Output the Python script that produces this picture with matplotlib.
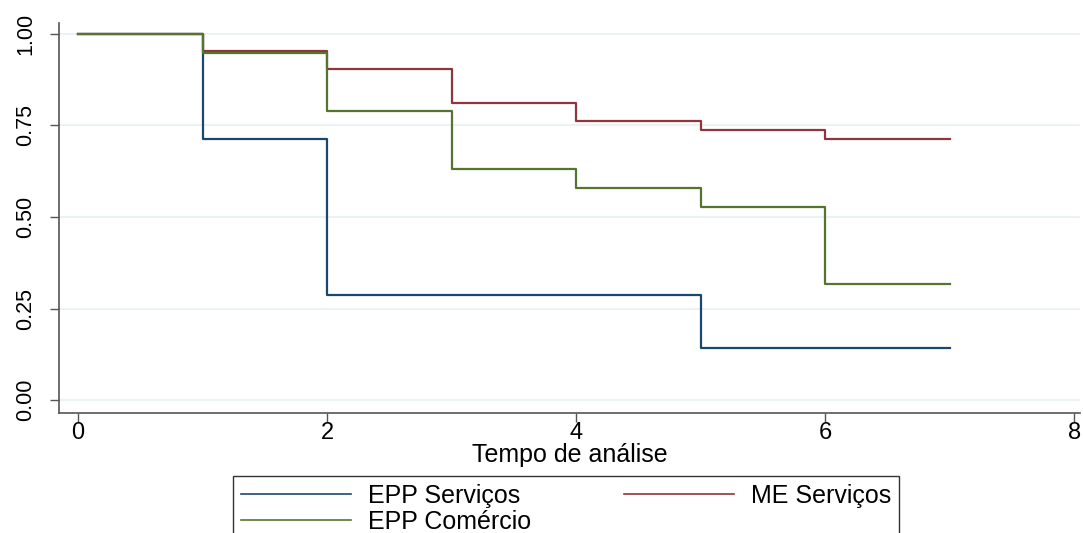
import matplotlib
matplotlib.use("Agg")
import matplotlib.pyplot as plt

plt.rcParams['font.family'] = ['Liberation Sans', 'DejaVu Sans']

# Kaplan-Meier survival estimates
t_epp_serv = [0, 1, 2, 5, 7]
s_epp_serv = [1.0, 0.714, 0.286, 0.143, 0.143]

t_me_serv = [0, 1, 2, 3, 4, 5, 6, 7]
s_me_serv = [1.0, 0.952, 0.905, 0.810, 0.762, 0.738, 0.714, 0.714]

t_epp_com = [0, 1, 2, 3, 4, 5, 6, 7]
s_epp_com = [1.0, 0.947, 0.789, 0.632, 0.579, 0.526, 0.316, 0.316]

labels = ['EPP Serviços', 'ME Serviços', 'EPP Comércio']
colors = ['#1a476f', '#90353b', '#55752f']

xticks = [0, 2, 4, 6, 8]
yticks = [0.0, 0.25, 0.5, 0.75, 1.0]
ytick_labels = ['0.00', '0.25', '0.50', '0.75', '1.00']

fig = plt.figure(figsize=(10.83, 5.33), dpi=100)
ax = fig.add_axes([0.0545, 0.225, 0.943, 0.732])

h1, = ax.step(t_epp_serv, s_epp_serv, where='post', color=colors[0], lw=1.6)
h2, = ax.step(t_me_serv, s_me_serv, where='post', color=colors[1], lw=1.6)
h3, = ax.step(t_epp_com, s_epp_com, where='post', color=colors[2], lw=1.6)

ax.set_xlim(-0.153, 8.05)
ax.set_ylim(-0.0355, 1.03)

ax.set_yticks(yticks)
ax.set_yticklabels(ytick_labels, rotation=90, va='center', fontsize=15.5)
ax.set_xticks(xticks)
ax.set_xticklabels([str(x) for x in xticks], fontsize=17)

ax.grid(axis='y', color='#eaf2f3', lw=1.5)
ax.set_axisbelow(True)

for side in ['top', 'right']:
    ax.spines[side].set_visible(False)
for side in ['left', 'bottom']:
    ax.spines[side].set_color('#555555')
    ax.spines[side].set_linewidth(1.2)
ax.tick_params(axis='both', direction='out', length=6.5, width=1.0, color='#555555')
ax.tick_params(axis='x', pad=0)
ax.tick_params(axis='y', pad=10)

ax.set_xlabel('Tempo de análise', fontsize=18, labelpad=-1)

leg = fig.legend([h1, h3, h2], [labels[0], labels[2], labels[1]],
                 loc='upper left', bbox_to_anchor=(233 / 1083, 1 - 476 / 533),
                 ncol=2, fontsize=18, frameon=True, fancybox=False,
                 edgecolor='black', handlelength=4.4, handletextpad=0.7,
                 columnspacing=3.7, labelspacing=0.1, borderpad=0.3,
                 borderaxespad=0)
leg.get_frame().set_linewidth(1.0)
for ln in leg.get_lines():
    ln.set_linewidth(1.2)

fig.savefig('out.png', dpi=100)
